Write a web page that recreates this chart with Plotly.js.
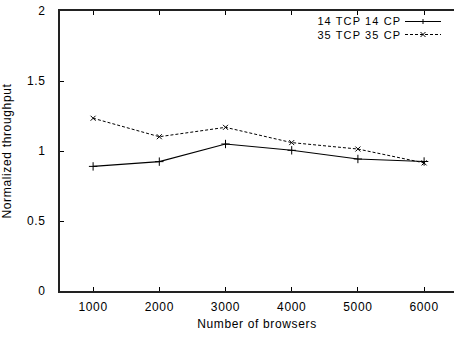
<!DOCTYPE html>
<html>
<head>
<meta charset="utf-8">
<script src="https://cdn.plot.ly/plotly-3.0.1.min.js"></script>
<style>
  html, body { margin: 0; padding: 0; background: #fff; }
  #chart { width: 454px; height: 337px; }
  #chart svg text { letter-spacing: 0.65px; }
  #chart svg .annotation text { letter-spacing: 1.1px; }
</style>
</head>
<body>
<div id="chart"></div>
<script>
// Normalized throughput vs. number of browsers
const browsers = [1000, 2000, 3000, 4000, 5000, 6000];
const tcp14 = [0.89, 0.924, 1.05, 1.005, 0.943, 0.925];
const tcp35 = [1.234, 1.102, 1.169, 1.06, 1.014, 0.915];
const seriesNames = ['14 TCP 14 CP', '35 TCP 35 CP'];
const yTicks = [0, 0.5, 1, 1.5, 2];
const yTickText = ['0', '0.5', '1', '1.5', '2'];

// plot box in pixels
const W = 454, H = 337;
const M = { l: 60, r: 0, t: 11, b: 46 };
const pw = W - M.l - M.r, ph = H - M.t - M.b;
const px = x => (x - M.l) / pw;          // pixel -> paper x
const py = y => (H - M.b - y) / ph;      // pixel -> paper y

const font = { family: 'Liberation Sans, Arial, sans-serif', size: 12, color: '#000' };
const keyFont = { family: 'Liberation Sans, Arial, sans-serif', size: 11, color: '#000' };

const traces = [
  {
    x: browsers, y: tcp14, name: seriesNames[0], mode: 'lines+markers',
    line: { color: '#000', width: 1.1 },
    marker: { symbol: 'cross-thin', size: 6, line: { color: '#000', width: 1 } }
  },
  {
    x: browsers, y: tcp35, name: seriesNames[1], mode: 'lines+markers',
    line: { color: '#000', width: 1, dash: '3px,2px' },
    marker: { symbol: 'x-thin', size: 5, line: { color: '#000', width: 1 } }
  }
];

// key: text on the left, line sample on the right
const keyRows = [
  { y: 21.5, dash: 'solid', mark: 'plus' },
  { y: 34.5, dash: '3px,2px', mark: 'x' }
];
const shapes = [];
const annotations = [];
keyRows.forEach((row, i) => {
  annotations.push({
    xref: 'paper', yref: 'paper', x: px(396), y: py(row.y),
    xanchor: 'right', yanchor: 'middle', showarrow: false, borderpad: 0,
    text: seriesNames[i], font: keyFont
  });
  shapes.push({
    type: 'line', xref: 'paper', yref: 'paper',
    x0: px(405), x1: px(441), y0: py(row.y), y1: py(row.y),
    line: { color: '#000', width: 1, dash: row.dash }
  });
  const cx = 423, cy = row.y, a = 2.5;
  if (row.mark === 'plus') {
    shapes.push({ type: 'line', xref: 'paper', yref: 'paper',
      x0: px(cx), x1: px(cx), y0: py(cy - a), y1: py(cy + a),
      line: { color: '#000', width: 1 } });
  } else {
    shapes.push({ type: 'line', xref: 'paper', yref: 'paper',
      x0: px(cx - a), x1: px(cx + a), y0: py(cy - a), y1: py(cy + a),
      line: { color: '#000', width: 1 } });
    shapes.push({ type: 'line', xref: 'paper', yref: 'paper',
      x0: px(cx - a), x1: px(cx + a), y0: py(cy + a), y1: py(cy - a),
      line: { color: '#000', width: 1 } });
  }
});

const layout = {
  width: W, height: H,
  margin: M,
  paper_bgcolor: '#fff', plot_bgcolor: '#fff',
  font: font,
  showlegend: false,
  xaxis: {
    range: [500, 500 + pw / 66.2 * 1000],
    tickvals: browsers,
    ticks: 'inside', ticklen: 4, tickwidth: 1, tickcolor: '#000',
    showline: true, linewidth: 2, linecolor: '#222', mirror: 'ticks',
    showgrid: false, zeroline: false,
    ticklabelstandoff: 4,
    title: { text: 'Number of browsers', font: font, standoff: 6 },
    automargin: false
  },
  yaxis: {
    range: [0, 2],
    tickvals: yTicks, ticktext: yTickText,
    ticks: 'inside', ticklen: 4, tickwidth: 1, tickcolor: '#000',
    showline: true, linewidth: 2, linecolor: '#222', mirror: false,
    showgrid: false, zeroline: false,
    ticklabelstandoff: 10,
    title: { text: 'Normalized throughput', font: font, standoff: 16 },
    automargin: false
  },
  yaxis2: {
    overlaying: 'y', side: 'right', anchor: 'x',
    range: [0, 2], tickvals: yTicks.slice(1, -1),
    ticks: 'inside', ticklen: 3, tickwidth: 1, tickcolor: '#888',
    showticklabels: false, showline: false, showgrid: false, zeroline: false
  },
  shapes: shapes,
  annotations: annotations
};

Plotly.newPlot('chart', traces, layout, { staticPlot: true, displayModeBar: false });
</script>
</body>
</html>
